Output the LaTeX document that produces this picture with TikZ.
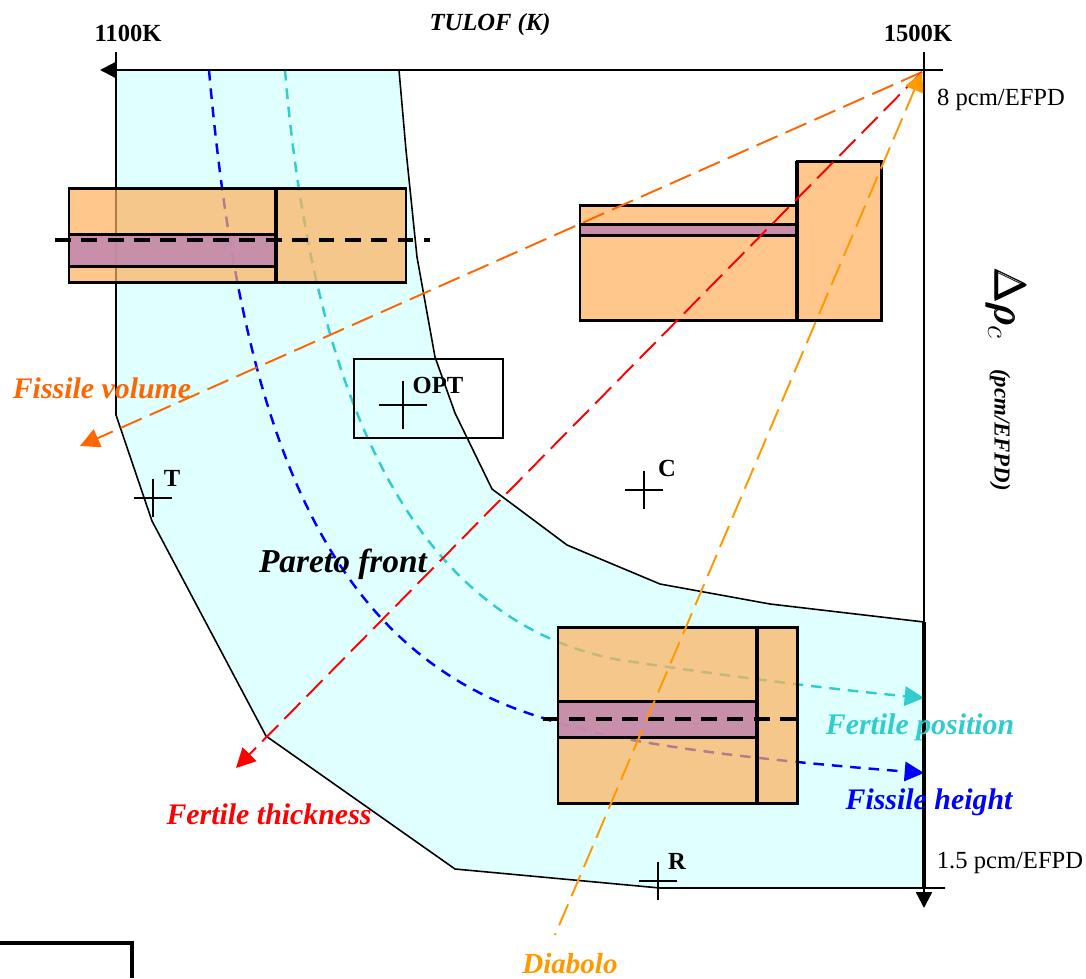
\documentclass[tikz,border=0pt]{standalone}
\usepackage{amsmath}
\usepackage{fontspec}
\setmainfont{Liberation Serif}
\usetikzlibrary{arrows.meta}
\definecolor{paretofill}{HTML}{E0FFFF}
\definecolor{fertilefill}{HTML}{FFB05A}
\definecolor{fissilefill}{HTML}{C48AAE}
\definecolor{volumecol}{HTML}{FF6600}
\definecolor{diabolocol}{HTML}{FF9900}
\definecolor{positioncol}{HTML}{33CCCC}

\begin{document}
\begin{tikzpicture}[x=0.02cm,y=-0.02cm,
  every node/.style={inner sep=0pt},
  tick/.style={font=\fontsize{14}{16}\selectfont\bfseries},
  value/.style={font=\fontsize{14}{16}\selectfont},
  trend/.style={font=\fontsize{17}{19}\selectfont\bfseries\itshape},
  axisline/.style={line width=1.3pt,-{Triangle[length=9pt,width=9pt]}},
  edgeline/.style={line width=0.9pt},
  boxline/.style={line width=1.7pt},
  dashline/.style={line width=2.1pt,dash pattern=on 9pt off 6pt},
  curveline/.style={line width=1.4pt,dash pattern=on 6pt off 4.5pt},
  rayline/.style={line width=1.1pt,dash pattern=on 13pt off 5pt},
  tipline/.style={-{Triangle[length=11pt,width=11pt]}},
  fertile/.style={fill=fertilefill,fill opacity=0.7,draw=black,boxline},
  fissile/.style={fill=fissilefill,fill opacity=0.9,draw=black,boxline}]
\useasboundingbox (0,0) rectangle (1086,978);
\fill[white] (0,0) rectangle (1086,978);

\fill[paretofill] (116,70) -- (399,70) -- (406,150) -- (417,257) -- (435,357) -- (455,413) -- (492,489)
  -- (567,545) -- (660,584) -- (770,604) -- (924,622) -- (924,888) -- (660,888) -- (455,869)
  -- (266,736) -- (152,521) -- (116,415) -- cycle;
\draw[edgeline] (399,70) -- (406,150) -- (417,257) -- (435,357) -- (455,413) -- (492,489)
  -- (567,545) -- (660,584) -- (770,604) -- (924,622);
\draw[edgeline] (116,70) -- (116,415) -- (152,521) -- (266,736) -- (455,869) -- (660,888) -- (945,888);

\coordinate (peak) at (922,72);
\coordinate (volume) at (80,446);
\coordinate (thickness) at (236,768);
\coordinate (diabolo) at (555,935);
\coordinate (blueTop) at (209,70);
\coordinate (blueMid) at (540,717);
\coordinate (blueEnd) at (924,773);
\coordinate (cyanTop) at (285,70);
\coordinate (cyanMid) at (620,660);
\coordinate (cyanEnd) at (924,698);

\draw[curveline,blue,tipline] (blueTop) .. controls (240,420) and (320,650) .. (blueMid) .. controls (620,745) and (760,760) .. (blueEnd);
\draw[curveline,positioncol,tipline] (cyanTop) .. controls (310,370) and (400,620) .. (cyanMid) .. controls (720,675) and (820,688) .. (cyanEnd);

\draw[fertile] (69,188) rectangle (406,282);
\draw[fissile] (69,234) rectangle (276,266);
\draw[line width=2.2pt] (276,188) -- (276,282);
\draw[fertile] (580,205) rectangle (797,320);
\draw[fertile] (797,161) rectangle (881,320);
\draw[fissile] (580,224) rectangle (797,235);
\draw[line width=2.2pt] (797,161) -- (797,320);
\draw[fertile] (558,627) rectangle (797,803);
\draw[fissile] (558,701) rectangle (757,737);
\draw[line width=2.2pt] (757,627) -- (757,803);
\draw[dashline] (55,240) -- (430,240);
\draw[dashline] (543,719) -- (797,719);

\draw[rayline,volumecol,tipline] (peak) -- (volume);
\draw[rayline,red,tipline] (peak) -- (thickness);
\draw[rayline,diabolocol,{Triangle[length=11pt,width=11pt]}-] (peak) -- (diabolo);

\coordinate (axisLeft) at (100,70);
\coordinate (axisRight) at (943,70);
\coordinate (axisTop) at (924,52);
\coordinate (axisBottom) at (924,908);
\draw[axisline] (axisRight) -- (axisLeft);
\draw[axisline] (axisTop) -- (axisBottom);
\draw[line width=1.3pt] (116,52) -- (116,88);
\draw[line width=1.9pt] (924,622) -- (924,888);

\node (tulof) at (490,25) [font=\fontsize{14}{16}\selectfont\bfseries\itshape] {TULOF (K)};
\node (low) at (128,33) [tick] {1100K};
\node (high) at (918,33) [tick] {1500K};
\node (top) at (1001,100) [value] {8 pcm/EFPD};
\node (bottom) at (1010,863) [value] {1.5 pcm/EFPD};
\node (rho) at (1006,304) [rotate=-90,font=\fontsize{24}{26}\selectfont] {$\pmb{\Delta\rho}_c$};
\node (unit) at (1000,430) [rotate=-90,font=\fontsize{13}{15}\selectfont\bfseries\itshape] {(pcm/EFPD)};

\node (opt) at (428.5,398.5) [draw,line width=0.9pt,minimum width=2.98cm,minimum height=1.58cm] {};
\coordinate (optC) at (403,405);
\coordinate (tC) at (153,498);
\coordinate (cC) at (644,490);
\coordinate (rC) at (658,881);
\draw[line width=1.6pt] (optC) +(-24,0) -- +(24,0) +(0,-24) -- +(0,24);
\draw[line width=1.1pt] (tC) +(-19,0) -- +(19,0) +(0,-19) -- +(0,19);
\draw[line width=1.1pt] (cC) +(-19,0) -- +(19,0) +(0,-19) -- +(0,19);
\draw[line width=1.1pt] (rC) +(-19,0) -- +(19,0) +(0,-19) -- +(0,19);
\node (optL) at (438,385) [tick] {OPT};
\node (tL) at (172,478) [tick] {T};
\node (cL) at (667,468) [tick] {C};
\node (rL) at (677,861) [tick] {R};

\node (pareto) at (343,564) [font=\fontsize{19}{21}\selectfont\bfseries\itshape] {Pareto front};
\node (volumeL) at (102,388) [trend,text=volumecol] {Fissile volume};
\node (thicknessL) at (269,814) [trend,text=red] {Fertile thickness};
\node (positionL) at (920,727) [trend,text=positioncol] {Fertile position};
\node (heightL) at (929,802) [trend,text=blue] {Fissile height};
\node (diaboloL) at (570,963.5) [font=\fontsize{16.5}{18}\selectfont\bfseries\itshape,text=diabolocol] {Diabolo};

\draw[line width=1.9pt] (0,943) -- (132,943) -- (132,978);
\end{tikzpicture}
\end{document}
